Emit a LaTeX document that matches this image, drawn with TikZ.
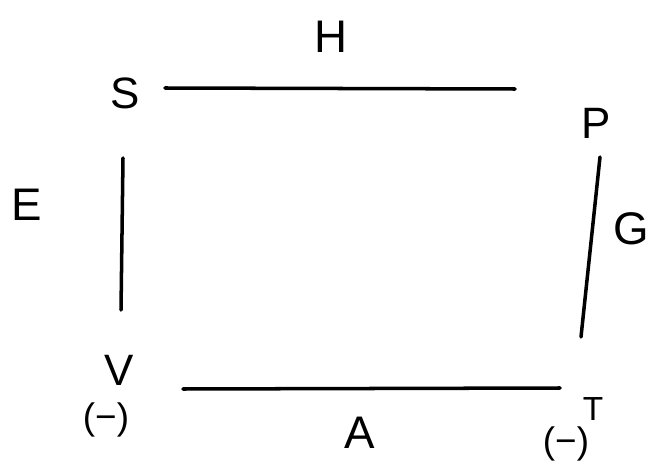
\documentclass[tikz,border=0pt]{standalone}
\usepackage{fontspec}
\setmainfont{Liberation Sans}
\usetikzlibrary{positioning}
\tikzset{
	side/.style={line width=2pt, line cap=round},
	corner/.style={font=\fontsize{25}{28}\selectfont, inner sep=0pt},
	sidelabel/.style={font=\fontsize{26}{28}\selectfont, inner sep=0pt},
	sign/.style={font=\fontsize{21}{24}\selectfont, inner sep=0pt}
}
\begin{document}
\begin{tikzpicture}[x=0.02cm, y=-0.02cm]
			\useasboundingbox (0,0) rectangle (653,466);
			% Corners:
			\node[corner](S) at (125, 93){S};
			\node[corner](P) at (596, 123){P};
			\node[corner](V) at (119, 370){V};
			\node[corner, font=\fontsize{19}{22}\selectfont](T) at (593, 409){T};
			\node[sign](Vm) at (106, 420){(−)};
			\node[sign](Tm) at (566, 444){(−)};
			% Ends of the sides:
			\coordinate (h1) at (165, 88);
			\coordinate (h2) at (515, 89);
			\coordinate (e1) at (123, 158);
			\coordinate (e2) at (121, 310);
			\coordinate (g1) at (600, 157);
			\coordinate (g2) at (581, 337);
			\coordinate (a1) at (183, 389);
			\coordinate (a2) at (560, 388);
			% Sides and their labels:
			\draw[side] (h1) -- (h2);
			\draw[side] (e1) -- (e2);
			\draw[side] (g1) -- (g2);
			\draw[side] (a1) -- (a2);
			\node[sidelabel](H) at (331, 37){H};
			\node[sidelabel](E) at (27, 205){E};
			\node[sidelabel](G) at (631, 229){G};
			\node[sidelabel](A) at (360, 433){A};
		\end{tikzpicture}
\end{document}
